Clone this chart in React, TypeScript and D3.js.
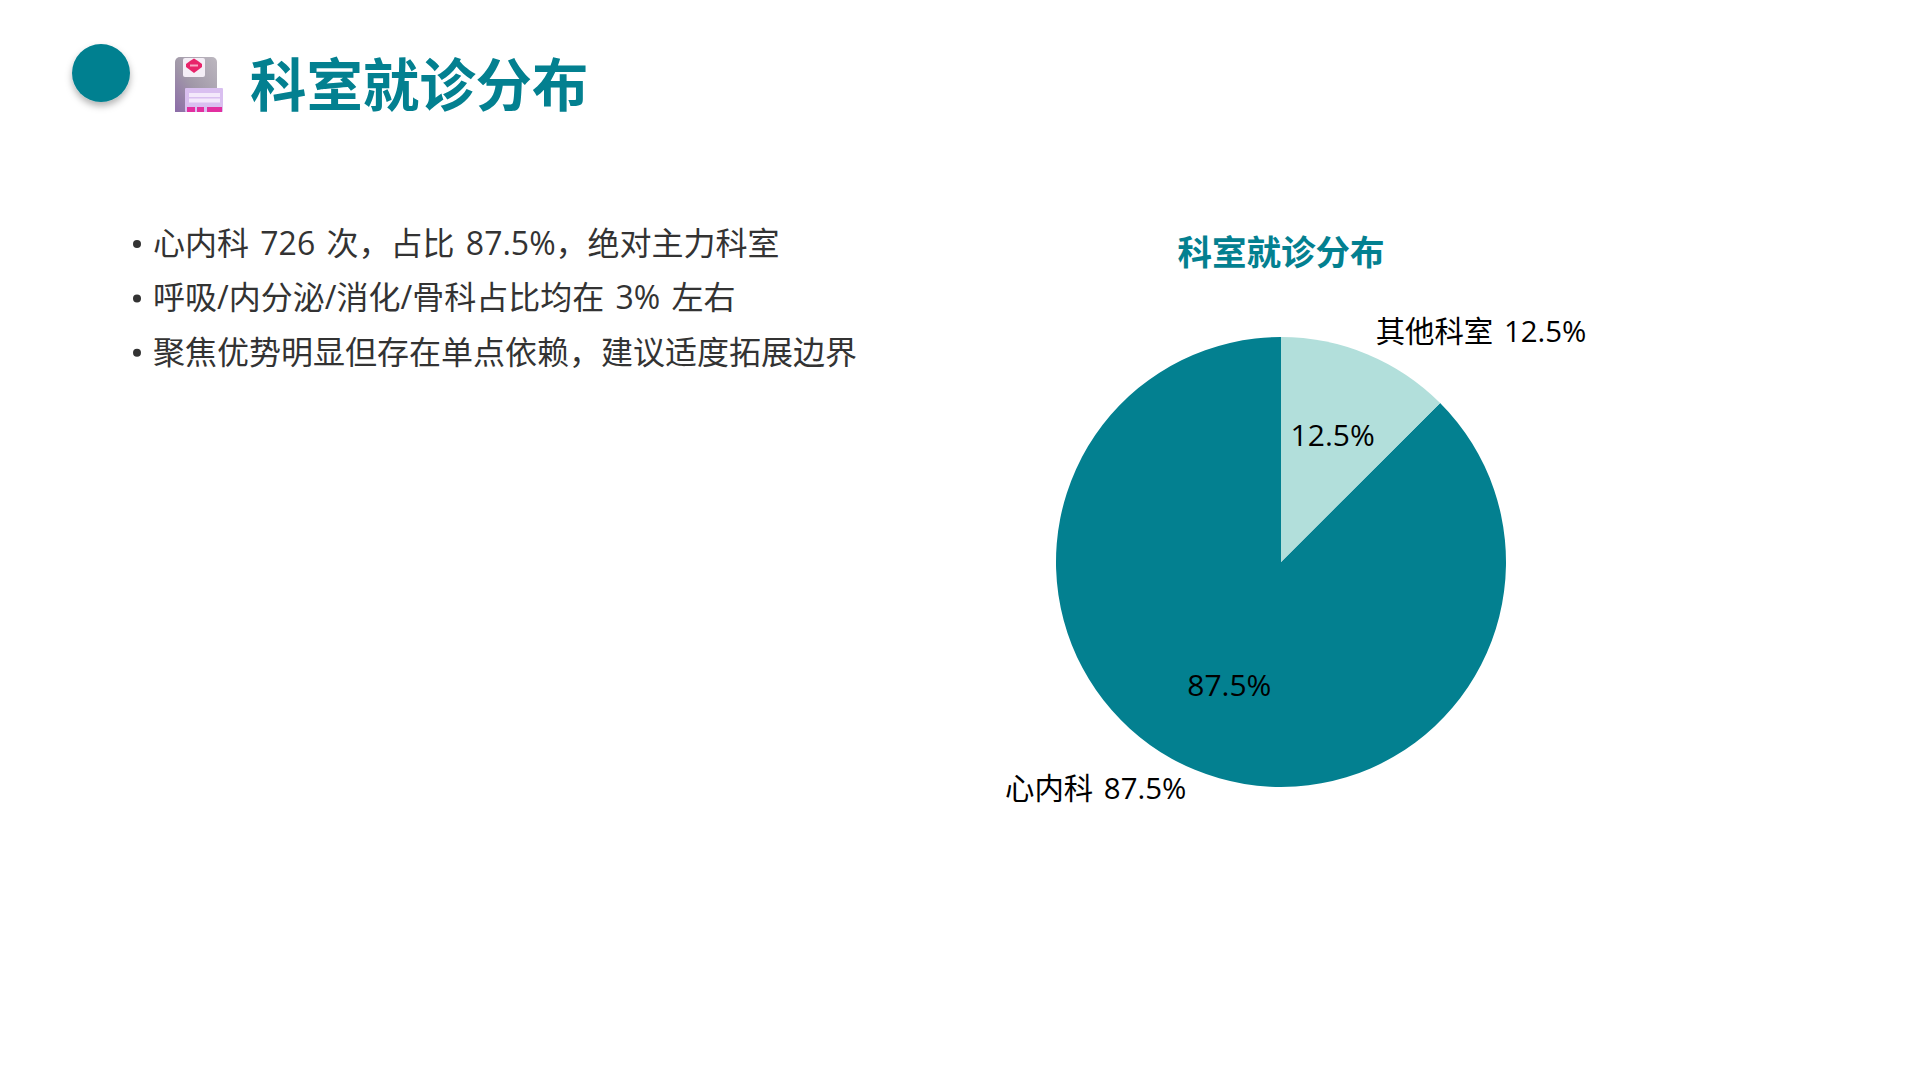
import React from "react";
import * as d3 from "d3";

const categories = ["心内科", "其他科室"];
const shares = [87.5, 12.5];
const sliceColors = ["#038090", "#B2DFDB"];
const bullets = [
  "心内科 726 次，占比 87.5%，绝对主力科室",
  "呼吸/内分泌/消化/骨科占比均在 3% 左右",
  "聚焦优势明显但存在单点依赖，建议适度拓展边界",
];
const heading = "科室就诊分布";

const FONT = '"Open Sans","Noto Sans CJK SC",sans-serif';
const CJK = '"Noto Sans CJK SC",sans-serif';
const TEAL = "#038090";
const cx = 1281;
const cy = 562;
const R = 225;

export default function App() {
  const pie = d3
    .pie<number>()
    .sort(null)
    .value((d) => d)
    .startAngle(Math.PI * 2)
    .endAngle(0);
  const arcs = pie(shares);
  const arc = d3.arc<d3.PieArcDatum<number>>().innerRadius(0).outerRadius(R);
  const innerArc = d3.arc<d3.PieArcDatum<number>>().innerRadius(R * 0.6).outerRadius(R * 0.6);
  const outerArc = d3.arc<d3.PieArcDatum<number>>().innerRadius(R * 1.1).outerRadius(R * 1.1);

  return (
    <svg
      width={1920}
      height={1080}
      viewBox="0 0 1920 1080"
      style={{ position: "fixed", left: 0, top: 0, background: "#fff" }}
    >
      <defs>
        <filter id="dotShadow" x="-40%" y="-40%" width="180%" height="180%">
          <feDropShadow dx="0" dy="4" stdDeviation="3.5" floodColor="#000" floodOpacity="0.3" />
        </filter>
        <linearGradient id="bldg" x1="0" y1="1" x2="1" y2="0">
          <stop offset="0" stopColor="#8B6BA8" />
          <stop offset="0.45" stopColor="#A198A8" />
          <stop offset="1" stopColor="#BDB8C0" />
        </linearGradient>
      </defs>

      <circle cx={101} cy={73} r={29} fill={TEAL} filter="url(#dotShadow)" />

      <g>
        <path d="M175,112V62a5,5 0 0 1 5,-5H212a5,5 0 0 1 5,5V112Z" fill="url(#bldg)" />
        <rect x={183} y={58} width={22} height={19} rx={2} fill="#F4EEF6" />
        <path d="M194,58.5 L198,61 L202,64 V67 L198,70 L194,73 L190,70 L186,67 V64 L190,61 Z" fill="#E8246A" />
        <rect x={190} y={64.5} width={8} height={2} fill="#F7A8C4" />
        <rect x={185} y={88} width={38} height={24} rx={1} fill="#D9BFF0" />
        <rect x={189} y={93} width={31} height={4} fill="#F3E8FB" />
        <rect x={189} y={98.5} width={31} height={4} fill="#F3E8FB" />
        <rect x={187} y={107} width={8} height={5} fill="#E22FA0" />
        <rect x={197} y={107} width={7} height={5} fill="#E22FA0" />
        <rect x={207} y={107} width={15} height={5} fill="#E22FA0" />
      </g>

      <text x={250} y={106} fontFamily={CJK} fontWeight={700} fontSize={56.4} fill={TEAL}>
        {heading}
      </text>

      {bullets.map((t, i) => (
        <g key={t}>
          <circle cx={137} cy={244 + i * 54.4} r={4} fill="#333" />
          <text x={153} y={255 + i * 54.4} fontFamily={FONT} fontSize={32} wordSpacing={3} fill="#333">
            {t}
          </text>
        </g>
      ))}

      <text
        x={cx}
        y={250}
        textAnchor="middle"
        dominantBaseline="central"
        fontFamily={CJK}
        fontWeight={700}
        fontSize={34.5}
        fill={TEAL}
      >
        {heading}
      </text>

      <g transform={`translate(${cx},${cy})`}>
        {arcs.map((a, i) => (
          <path key={categories[i]} d={arc(a) ?? ""} fill={sliceColors[i]} />
        ))}
        {arcs.map((a, i) => {
          const [x, y] = innerArc.centroid(a);
          return (
            <text
              key={categories[i]}
              x={x}
              y={y - 2.5}
              textAnchor="middle"
              dominantBaseline="central"
              fontFamily={FONT}
              fontSize={30}
              fill="#000"
            >
              {`${shares[i]}%`}
            </text>
          );
        })}
        {arcs.map((a, i) => {
          const [x, y] = outerArc.centroid(a);
          return (
            <text
              key={categories[i]}
              x={x}
              y={y - 2.5}
              textAnchor={x < 0 ? "end" : "start"}
              dominantBaseline="central"
              fontFamily={FONT}
              fontSize={29.4}
              wordSpacing={3}
              fill="#000"
            >
              {`${categories[i]} ${shares[i]}%`}
            </text>
          );
        })}
      </g>
    </svg>
  );
}
